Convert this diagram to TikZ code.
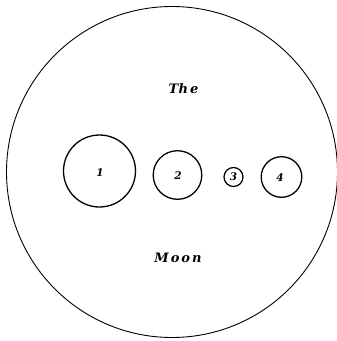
\documentclass[tikz,border=0pt]{standalone}
\usepackage{fontspec}
\usepackage{amsmath, amssymb, tikz}
\usepackage{xcolor}
\newfontfamily\slabfont{DejaVu Serif}

\begin{document}
\begin{tikzpicture}[x=1pt,y=1pt,yscale=-1,xscale=1]
\useasboundingbox (0,0) rectangle (337,341);

%Shape: Circle (the moon)
\draw [line width=0.9]  (172,172) circle [radius=165.5] ;
%Shape: Circle (spot 1)
\draw [line width=1.3]  (99.5,171) circle [radius=36] ;
%Shape: Circle (spot 2)
\draw [line width=1.3]  (177.5,175) circle [radius=24.3] ;
%Shape: Circle (spot 3)
\draw [line width=1.2]  (233.5,177) circle [radius=9.5] ;
%Shape: Circle (spot 4)
\draw [line width=1.3]  (281.5,177) circle [radius=20.3] ;

% Text Node
\draw (183.5,89) node [inner sep=0.75pt] (the) {\slabfont\fontsize{13}{15}\selectfont\bfseries\itshape T\kern0.5pt h\kern2pt e};
% Text Node
\draw (178,258) node [inner sep=0.75pt] (moon) {\slabfont\fontsize{13}{15}\selectfont\bfseries\itshape M\kern2pt o\kern2pt o\kern2pt n};
% Text Node
\draw (100,173) node [inner sep=0.75pt] (one) {\slabfont\fontsize{10.5}{12}\selectfont\bfseries\itshape 1};
% Text Node
\draw (178,176) node [inner sep=0.75pt] (two) {\slabfont\fontsize{10.5}{12}\selectfont\bfseries\itshape 2};
% Text Node
\draw (233.5,177) node [inner sep=0.75pt] (three) {\slabfont\fontsize{10.5}{12}\selectfont\bfseries\itshape 3};
% Text Node
\draw (280,178) node [inner sep=0.75pt] (four) {\slabfont\fontsize{10.5}{12}\selectfont\bfseries\itshape 4};

\end{tikzpicture}
\end{document}
